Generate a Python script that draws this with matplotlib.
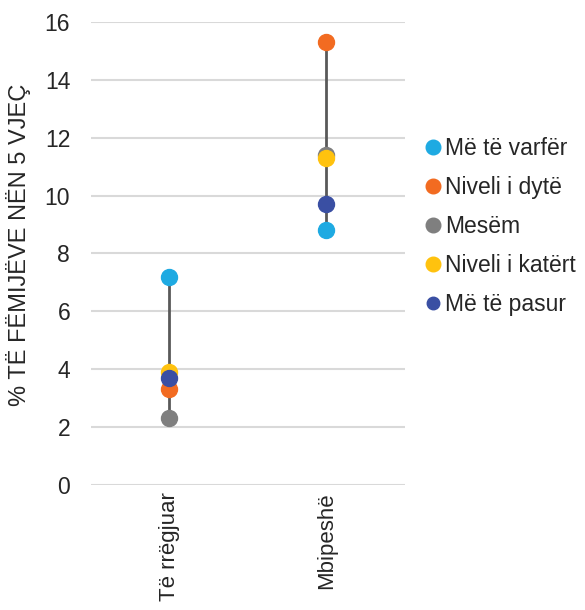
import matplotlib
matplotlib.use("Agg")
import matplotlib.pyplot as plt
from matplotlib.lines import Line2D

plt.rcParams['font.family'] = ['Liberation Sans', 'DejaVu Sans']

categories = ["Të rrëgjuar", "Mbipeshë"]
series_names = ["Më të varfër", "Niveli i dytë", "Mesëm", "Niveli i katërt", "Më të pasur"]
varfer = [7.2, 8.8]
dyte = [3.3, 15.3]
mesem = [2.3, 11.4]
katert = [3.9, 11.3]
pasur = [3.7, 9.7]
series_values = [varfer, dyte, mesem, katert, pasur]
colors = ["#1EAAE2", "#F26B21", "#7F7F7F", "#FFC20E", "#3A4FA3"]
yticks = [0, 2, 4, 6, 8, 10, 12, 14, 16]

fig = plt.figure(figsize=(5.85, 6.10), dpi=100)
ax = fig.add_axes([0.1556, 0.205, 0.692 - 0.1556, 0.964 - 0.205])

x = list(range(len(categories)))
for i in x:
    vals = [s[i] for s in series_values]
    ax.plot([i, i], [min(vals), max(vals)], color="#595959", lw=2, zorder=2, solid_capstyle='butt')

handles = []
for name, vals, c in zip(series_names, series_values, colors):
    ax.plot(x, vals, linestyle='none', marker='o', ms=11.5, color=c, mec=c, zorder=3)
    ms = 10.5 if name != "Më të pasur" else 9
    handles.append(Line2D([], [], linestyle='none', marker='o', ms=ms, color=c, mec=c, label=name))

txtc = "#262626"
ax.set_xlim(-0.5, 1.5)
ax.set_ylim(0, 16)
ax.set_yticks(yticks)
ax.set_yticklabels([str(v) for v in yticks], fontsize=16.5, color=txtc)
ax.set_xticks(x)
ax.set_xticklabels(categories, rotation=90, fontsize=16, color=txtc, va='top')
ax.tick_params(axis='both', length=0)
ax.tick_params(axis='y', pad=15)
ax.tick_params(axis='x', pad=5)
ax.yaxis.grid(True, color="#D9D9D9", lw=1.5)
ax.set_axisbelow(True)
for sp in ax.spines.values():
    sp.set_visible(False)

ax.set_ylabel("% TË FËMIJËVE NËN 5 VJEÇ", fontsize=17, color=txtc)
ax.yaxis.set_label_coords(-0.19, 0.518)

leg = fig.legend(handles=handles, loc='upper left', bbox_to_anchor=(0.72, 0.775),
                 frameon=False, fontsize=16.5, handletextpad=0.05, labelspacing=0.70,
                 handlelength=1.0, borderpad=0, borderaxespad=0)
for t in leg.get_texts():
    t.set_color(txtc)

fig.savefig("out.png", dpi=100)
